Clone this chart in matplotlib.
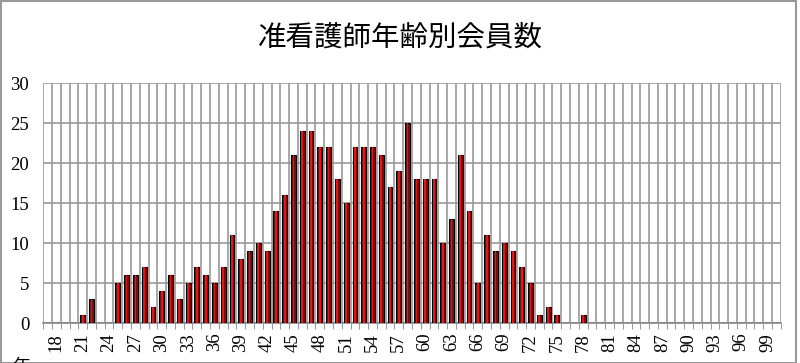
import numpy as np
import matplotlib.pyplot as plt

# ages 17..100, counts per age
ages = np.arange(17, 101)
counts_known = {21: 1, 22: 3, 25: 5, 26: 6, 27: 6, 28: 7, 29: 2, 30: 4, 31: 6, 32: 3,
                33: 5, 34: 7, 35: 6, 36: 5, 37: 7, 38: 11, 39: 8, 40: 9, 41: 10, 42: 9,
                43: 14, 44: 16, 45: 21, 46: 24, 47: 24, 48: 22, 49: 22, 50: 18, 51: 15,
                52: 22, 53: 22, 54: 22, 55: 21, 56: 17, 57: 19, 58: 25, 59: 18, 60: 18,
                61: 18, 62: 10, 63: 13, 64: 21, 65: 14, 66: 5, 67: 11, 68: 9, 69: 10,
                70: 9, 71: 7, 72: 5, 73: 1, 74: 2, 75: 1, 78: 1}
counts = np.array([counts_known.get(a, 0) for a in ages])
tick_ages = np.arange(18, 100, 3)
title = "准看護師年齢別会員数"

fig = plt.figure(figsize=(8, 3.63), dpi=100)
ax = fig.add_axes([0.054, 0.110, 0.922, 0.661])

ax.bar(ages, counts, width=0.55, color="#7a0f0f", edgecolor="black", linewidth=0.8, zorder=3)
ax.bar(ages, counts, width=0.2, color="#e01818", linewidth=0, zorder=4)

ax.set_xlim(16.9, 100.5)
ax.set_ylim(0, 30)
ax.set_yticks(range(0, 31, 5))
ax.set_xticks(tick_ages)
ax.set_xticks(np.arange(16.5, 101, 1), minor=True)
ax.tick_params(axis="x", which="major", length=0, labelrotation=90, pad=7)
ax.tick_params(axis="x", which="minor", length=4, color="#888888")
ax.tick_params(axis="y", length=0, pad=10)
for lab in ax.get_xticklabels() + ax.get_yticklabels():
    lab.set_fontfamily("Liberation Serif")
    lab.set_fontsize(13.5)

ax.grid(True, axis="y", color="#999999", linewidth=1.2, zorder=0)
ax.grid(True, axis="x", which="minor", color="#999999", linewidth=1.2, zorder=0)
for s in ["left", "right", "top"]:
    ax.spines[s].set_visible(False)
ax.spines["bottom"].set_color("#888888")
ax.spines["bottom"].set_linewidth(1.2)

fig.text(0.5, 0.898, title, ha="center", va="center", fontsize=20.5,
         family=["Noto Sans CJK JP", "DejaVu Sans"])
fig.text(0.015, 0.014, "年", ha="left", va="top", fontsize=13,
         family=["Noto Sans CJK JP", "DejaVu Sans"])

# outer frame
fig.patches.append(plt.Rectangle((0.001, 0.001), 0.994, 0.996, transform=fig.transFigure,
                                 fill=False, edgecolor="#999999", linewidth=1.5))

fig.savefig("out.png", dpi=100)
